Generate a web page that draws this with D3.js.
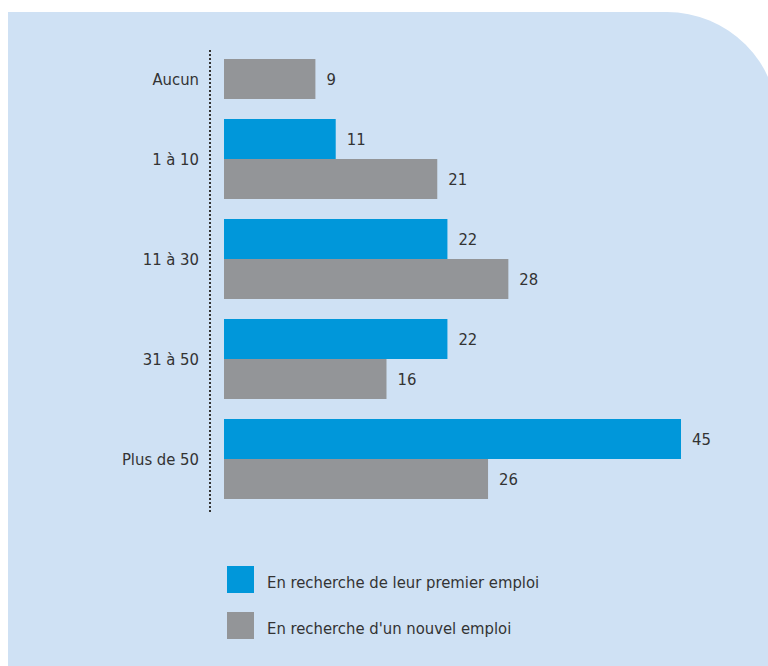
<!DOCTYPE html>
<html>
<head>
<meta charset="utf-8">
<script src="https://cdn.jsdelivr.net/npm/d3@7"></script>
<style>
  body { margin: 0; background: #fff; }
  text { font-family: "DejaVu Sans Condensed", "DejaVu Sans", sans-serif; fill: #333; }
</style>
</head>
<body>
<div id="chart"></div>
<script>
// données
const categories = ["Aucun", "1 à 10", "11 à 30", "31 à 50", "Plus de 50"];
const premierEmploi = [null, 11, 22, 22, 45];
const nouvelEmploi = [9, 21, 28, 16, 26];
const seriesNames = ["En recherche de leur premier emploi", "En recherche d'un nouvel emploi"];
const colors = ["#0097da", "#939598"];

const W = 768, H = 666;
const svg = d3.select("#chart").append("svg")
    .attr("width", W)
    .attr("height", H);

// fond bleu avec coin arrondi en haut à droite
svg.append("path")
    .attr("d", `M8,12 H667 A111,111 0 0 1 778,123 V${H} H8 Z`)
    .attr("fill", "#cfe1f4");

const x0 = 224;
const x = d3.scaleLinear().domain([0, 45]).range([x0, 681]);

const y = d3.scaleBand()
    .domain(categories)
    .range([9, 509])
    .paddingInner(0.2)
    .paddingOuter(0.1);

const ySub = d3.scaleBand()
    .domain([0, 1])
    .range([0, y.bandwidth()]);

const rows = categories.map((c, i) => ({
    cat: c,
    vals: [premierEmploi[i], nouvelEmploi[i]]
}));

// axe pointillé
svg.append("line")
    .attr("x1", 210).attr("x2", 210)
    .attr("y1", 50).attr("y2", 514)
    .attr("stroke", "#333")
    .attr("stroke-width", 2)
    .attr("stroke-dasharray", "2,2");

const g = svg.selectAll(".grp")
    .data(rows)
    .join("g")
    .attr("class", "grp")
    .attr("transform", d => `translate(0,${y(d.cat)})`);

g.each(function(d) {
    const grp = d3.select(this);
    d.vals.forEach((v, k) => {
        if (v == null) return;
        grp.append("rect")
            .attr("x", x(0))
            .attr("y", ySub(k))
            .attr("width", x(v) - x(0))
            .attr("height", ySub.bandwidth())
            .attr("fill", colors[k]);
        grp.append("text")
            .attr("x", x(v) + 11)
            .attr("y", ySub(k) + ySub.bandwidth() / 2)
            .attr("dy", "0.35em")
            .style("font-size", "16.5px")
            .text(v);
    });
    // libellé centré sur les barres présentes
    const present = d.vals.map((v, k) => v == null ? null : ySub(k) + ySub.bandwidth() / 2)
        .filter(v => v != null);
    grp.append("text")
        .attr("x", 199)
        .attr("y", d3.mean(present))
        .attr("dy", "0.35em")
        .attr("text-anchor", "end")
        .style("font-size", "16.5px")
        .text(d.cat);
});

// légende
const leg = svg.selectAll(".leg")
    .data(seriesNames)
    .join("g")
    .attr("class", "leg")
    .attr("transform", (d, i) => `translate(227,${566 + i * 46})`);

leg.append("rect")
    .attr("width", 27)
    .attr("height", 27)
    .attr("fill", (d, i) => colors[i]);

leg.append("text")
    .attr("x", 40)
    .attr("y", 16)
    .attr("dy", "0.35em")
    .style("font-size", "16.5px")
    .text(d => d);
</script>
</body>
</html>
